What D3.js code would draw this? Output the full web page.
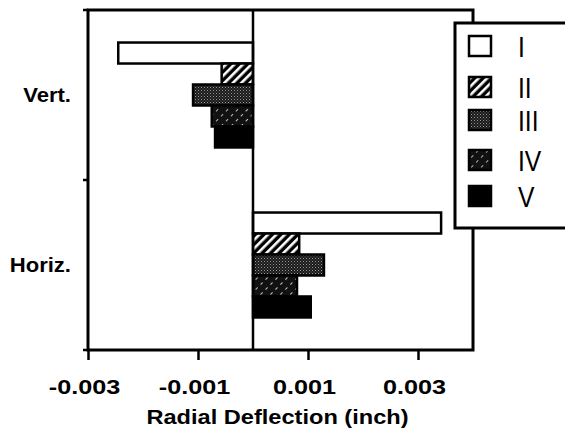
<!DOCTYPE html>
<html>
<head>
<meta charset="utf-8">
<script src="https://cdn.jsdelivr.net/npm/d3@7"></script>
<style>
  body { margin: 0; background: #fff; }
  text { font-family: "Liberation Sans", Arial, sans-serif; fill: #000; }
</style>
</head>
<body>
<div id="chart"></div>
<script>
var directions = ["Vert.", "Horiz."]
var series = ["I", "II", "III", "IV", "V"]
var vertValues = [-0.00245, -0.00057, -0.00109, -0.00075, -0.00069]
var horizValues = [0.00342, 0.00084, 0.00129, 0.0008, 0.00105]
var tickValues = [-0.003, -0.001, 0.001, 0.003]

var values = { "Vert.": vertValues, "Horiz.": horizValues }

var W = 565, H = 435
var margin = { top: 10, right: 92, bottom: 85, left: 88 }

var svg = d3.select("#chart").append("svg")
  .attr("width", W)
  .attr("height", H)

// fill patterns for the five cases
var defs = svg.append("defs")

var p2 = defs.append("pattern").attr("id", "pat-II")
  .attr("patternUnits", "userSpaceOnUse").attr("width", 6).attr("height", 6)
  .attr("patternTransform", "rotate(45)")
p2.append("rect").attr("width", 6).attr("height", 6).attr("fill", "#000")
p2.append("rect").attr("width", 2.6).attr("height", 6).attr("fill", "#fff")

var p3 = defs.append("pattern").attr("id", "pat-III")
  .attr("patternUnits", "userSpaceOnUse").attr("width", 3).attr("height", 3)
p3.append("rect").attr("width", 3).attr("height", 3).attr("fill", "#1a1a1a")
p3.append("rect").attr("width", 1).attr("height", 1).attr("fill", "#999")
p3.append("rect").attr("x", 1.5).attr("y", 1.5).attr("width", 1).attr("height", 1).attr("fill", "#666")

var p4 = defs.append("pattern").attr("id", "pat-IV")
  .attr("patternUnits", "userSpaceOnUse").attr("width", 7).attr("height", 7)
  .attr("patternTransform", "rotate(45)")
p4.append("rect").attr("width", 7).attr("height", 7).attr("fill", "#111")
p4.append("rect").attr("width", 1).attr("height", 3).attr("fill", "#bbb")

var fills = ["#fff", "url(#pat-II)", "url(#pat-III)", "url(#pat-IV)", "#000"]

var x = d3.scaleLinear()
  .domain([-0.003, 0.004])
  .range([margin.left, W - margin.right])

var y = d3.scaleBand()
  .domain(directions)
  .range([margin.top, H - margin.bottom])

var inner = d3.scaleBand()
  .domain(series)
  .range([0, y.bandwidth()])
  .paddingOuter(1.55)

var g = svg.append("g")

directions.forEach(function(dir) {
  g.selectAll(".bar-" + dir[0])
    .data(values[dir])
    .enter()
      .append("rect")
      .attr("x", function(d) { return Math.min(x(d), x(0)) })
      .attr("width", function(d) { return Math.abs(x(d) - x(0)) })
      .attr("y", function(d, i) { return y(dir) + inner(series[i]) })
      .attr("height", inner.bandwidth())
      .attr("fill", function(d, i) { return fills[i] })
      .attr("stroke", "#000")
      .attr("stroke-width", 2.5)
})

// zero line
g.append("line")
  .attr("x1", x(0)).attr("x2", x(0))
  .attr("y1", margin.top).attr("y2", H - margin.bottom)
  .attr("stroke", "#000").attr("stroke-width", 2.5)

// frame
g.append("rect")
  .attr("x", margin.left).attr("y", margin.top)
  .attr("width", W - margin.right - margin.left)
  .attr("height", H - margin.bottom - margin.top)
  .attr("fill", "none").attr("stroke", "#000").attr("stroke-width", 3)

// x axis
var xAxis = svg.append("g")
  .attr("transform", "translate(0," + (H - margin.bottom) + ")")
  .call(d3.axisBottom(x).tickValues(tickValues).tickSize(10).tickPadding(34)
    .tickFormat(d3.format(".3f")))
xAxis.select(".domain").remove()
xAxis.selectAll("line").attr("stroke", "#000").attr("stroke-width", 2.5)
xAxis.selectAll("text")
  .attr("dy", "0")
  .attr("transform", "translate(-4,0) scale(1.2,1)")
  .style("font-size", "21px")
  .style("font-weight", "bold")
  .style("font-family", "'Liberation Sans', Arial, sans-serif")
  .text(function(d) { return d3.format(".3f")(d).replace("−", "-") })

// y axis ticks at band edges
svg.append("g").selectAll("line")
  .data(directions.map(function(d) { return y(d) }).concat([H - margin.bottom]))
  .enter()
    .append("line")
    .attr("x1", margin.left - 5).attr("x2", margin.left)
    .attr("y1", function(d) { return d }).attr("y2", function(d) { return d })
    .attr("stroke", "#000").attr("stroke-width", 2.5)

svg.append("g").selectAll("text")
  .data(directions)
  .enter()
    .append("text")
    .attr("transform", function(d) {
      return "translate(71," + (y(d) + y.bandwidth() / 2 + 7) + ") scale(1.05,1)"
    })
    .attr("text-anchor", "end")
    .style("font-size", "21px")
    .style("font-weight", "bold")
    .text(function(d) { return d })

svg.append("text")
  .attr("transform", "translate(" + ((x(-0.003) + x(0.004)) / 2 - 3) + ",424) scale(1.18,1)")
  .attr("text-anchor", "middle")
  .style("font-size", "20px")
  .style("font-weight", "bold")
  .text("Radial Deflection (inch)")

// legend
var legend = svg.append("g")
legend.append("rect")
  .attr("x", 455).attr("y", 23)
  .attr("width", 130).attr("height", 205)
  .attr("fill", "#fff").attr("stroke", "#000").attr("stroke-width", 3)

var legendRows = [46, 87, 120, 160, 196]
var items = legend.selectAll(".legend")
  .data(series)
  .enter()
    .append("g")
    .attr("class", "legend")
    .attr("transform", function(d, i) { return "translate(468," + legendRows[i] + ")" })

items.append("rect")
  .attr("x", 1).attr("y", -10)
  .attr("width", 22).attr("height", 20)
  .attr("fill", function(d, i) { return fills[i] })
  .attr("stroke", "#000").attr("stroke-width", 2.5)

items.append("text")
  .attr("transform", "translate(50,11) scale(0.85,1)")
  .style("font-size", "29px")
  .text(function(d) { return d })
</script>
</body>
</html>
